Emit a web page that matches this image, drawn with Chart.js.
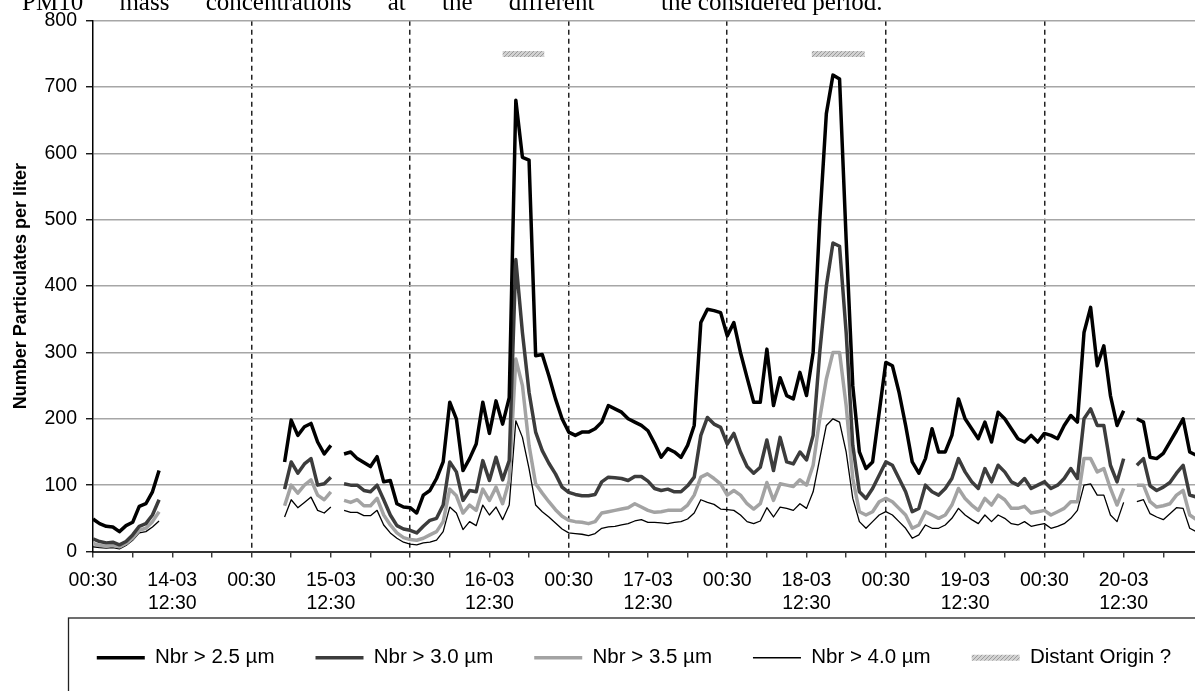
<!DOCTYPE html>
<html>
<head>
<meta charset="utf-8">
<script src="https://cdn.jsdelivr.net/npm/chart.js@4.4.0/dist/chart.umd.min.js"></script>
<style>
  html, body { margin: 0; padding: 0; overflow: hidden; background: #fff; }
  #wrap { position: relative; width: 1195px; height: 691px; }
  .caption { position: absolute; top: -12px; font: 25px "Liberation Serif", "DejaVu Serif", serif; white-space: nowrap; color: #000; z-index: 2; }
</style>
</head>
<body>
<div id="wrap">
  <canvas id="chart" width="1195" height="691"></canvas>
  <div class="caption" style="left:22px; word-spacing:30px">PM10 mass concentrations at the different</div>
  <div class="caption" style="left:661px">the considered period.</div>
</div>
<script>
// hours since 14-03 00:30, one sample per hour
const hours = Array.from({ length: 168 }, (_, h) => h);

const nbr25 = [
  49, 42, 38, 37, 30, 39, 44, 68, 72, 90,
  122, null, null, null, null, null, null, null, null, null,
  null, null, null, null, null, null, null, null, null, 135,
  198, 175, 188, 193, 165, 147, 160, null, 147, 150,
  140, 134, 128, 143, 105, 107, 72, 67, 66, 58,
  85, 92, 110, 135, 225, 200, 122, 140, 162, 225,
  178, 227, 192, 232, 680, 594, 590, 295, 297, 265,
  230, 200, 180, 175, 180, 180, 185, 195, 220, 215,
  210, 200, 195, 190, 182, 163, 142, 155, 150, 142,
  160, 190, 345, 365, 363, 360, 325, 345, 300, 262,
  225, 225, 305, 220, 262, 235, 230, 270, 235, 300,
  498, 660, 718, 712, 470, 250, 150, 125, 135, 210,
  285, 280, 240, 190, 135, 118, 140, 185, 150, 150,
  175, 230, 200, 185, 170, 195, 165, 210, 200, 185,
  170, 165, 175, 165, 178, 175, 170, 190, 205, 195,
  330, 368, 280, 310, 235, 190, 212, null, 200, 195,
  142, 140, 148, 165, 182, 200, 150, 145
];
const nbr30 = [
  19, 15, 13, 14, 10, 15, 25, 38, 42, 55,
  78, null, null, null, null, null, null, null, null, null,
  null, null, null, null, null, null, null, null, null, 94,
  135, 118, 132, 140, 100, 102, 112, null, 102, 100,
  100, 92, 90, 100, 78, 55, 39, 34, 32, 28,
  38, 47, 50, 70, 135, 120, 77, 92, 90, 137,
  107, 142, 108, 137, 440, 330, 240, 180, 152, 133,
  117, 97, 89, 86, 84, 84, 86, 105, 112, 111,
  110, 107, 113, 113, 106, 95, 92, 94, 90, 90,
  99, 112, 175, 202, 192, 187, 162, 178, 150, 128,
  118, 127, 168, 122, 172, 135, 132, 150, 138, 175,
  300, 400, 465, 460, 330, 160, 90, 80, 95, 115,
  135, 130, 110, 90, 60, 65, 100, 90, 85, 95,
  110, 140, 120, 105, 95, 125, 105, 130, 120, 105,
  100, 110, 95, 100, 105, 95, 100, 110, 125, 110,
  200, 215, 190, 190, 130, 105, 140, null, 130, 140,
  99, 92, 97, 104, 118, 130, 85, 82
];
const nbr35 = [
  12, 9, 8, 9, 7, 12, 20, 32, 35, 45,
  60, null, null, null, null, null, null, null, null, null,
  null, null, null, null, null, null, null, null, null, 69,
  100, 88, 100, 108, 85, 78, 90, null, 77, 74,
  78, 69, 69, 80, 55, 40, 28, 21, 18, 17,
  20, 25, 30, 45, 94, 84, 58, 70, 62, 94,
  77, 97, 72, 107, 290, 250, 160, 102, 88, 75,
  63, 53, 47, 45, 44, 42, 45, 58, 60, 62,
  64, 66, 72, 67, 62, 59, 60, 62, 62, 62,
  70, 85, 112, 117, 110, 102, 85, 92, 85, 72,
  64, 72, 104, 77, 102, 100, 98, 108, 100, 130,
  200, 260, 300, 300, 220, 110, 60, 55, 60, 75,
  80, 75, 65, 55, 35, 40, 60, 55, 50, 55,
  70, 95, 80, 70, 62, 80, 70, 85, 78, 65,
  65, 68, 58, 60, 62, 55, 60, 65, 75, 75,
  140, 140, 120, 125, 95, 70, 95, null, 100, 100,
  75, 67, 69, 72, 85, 92, 55, 48
];
const nbr40 = [
  7, 6, 5, 6, 4, 9, 17, 28, 30, 37,
  46, null, null, null, null, null, null, null, null, null,
  null, null, null, null, null, null, null, null, null, 52,
  78, 66, 74, 82, 62, 58, 67, null, 62, 59,
  59, 54, 54, 62, 40, 28, 20, 14, 11, 10,
  13, 14, 17, 30, 67, 58, 33, 45, 39, 70,
  55, 67, 48, 70, 197, 172, 125, 70, 60, 52,
  43, 34, 28, 27, 26, 24, 27, 35, 37, 38,
  40, 42, 46, 48, 44, 44, 43, 42, 44, 45,
  49, 58, 78, 74, 71, 64, 63, 62, 55, 45,
  42, 46, 66, 52, 67, 65, 62, 72, 65, 90,
  140, 190, 200, 195, 150, 80, 45, 35, 45, 55,
  60, 55, 45, 35, 20, 25, 40, 35, 35, 40,
  50, 65, 55, 48, 42, 55, 45, 55, 50, 42,
  40, 45, 38, 40, 42, 35, 38, 42, 50, 62,
  100, 102, 85, 85, 55, 45, 74, null, 75, 78,
  57, 52, 48, 57, 66, 65, 35, 30
];

// "Distant Origin ?" periods
const distantHours = [62, 68.3, 90, 108.8, 116.8];
const distantValues = [750, 750, null, 750, 750];

const tickHours = [0, 6, 12, 18, 24, 30, 36, 42, 48, 54, 60, 66, 72, 78, 84, 90, 96, 102,
  108, 114, 120, 126, 132, 138, 144, 150, 156, 162];
const tickLabels = ["00:30", ["14-03", "12:30"], "00:30", ["15-03", "12:30"], "00:30", ["16-03", "12:30"],
  "00:30", ["17-03", "12:30"], "00:30", ["18-03", "12:30"], "00:30", ["19-03", "12:30"],
  "00:30", ["20-03", "12:30"]];
const xMax = 166.8;

const pts = (xs, ys) => xs.map((x, i) => ({ x: x, y: ys[i] }));

const pc = document.createElement("canvas");
pc.width = 4;
pc.height = 4;
const pctx = pc.getContext("2d");
pctx.fillStyle = "#d2d2d2";
pctx.fillRect(0, 0, 4, 4);
pctx.fillStyle = "#9c9c9c";
pctx.fillRect(0, 0, 1, 1);
pctx.fillRect(2, 2, 1, 1);
pctx.fillRect(1, 3, 1, 1);
pctx.fillRect(3, 1, 1, 1);
const hatch = pctx.createPattern(pc, "repeat");

Chart.defaults.font.family = "'Liberation Sans', Arial, sans-serif";
Chart.defaults.color = "#000";

const legendFrame = {
  id: "legendFrame",
  afterLayout(chart) {
    const lg = chart.legend;
    // wide row so all five entries stay on one line, centred a bit right
    lg.left = chart.chartArea.left - 120;
    lg.right = chart.chartArea.right + 100;
    // let the two-line tick labels run past the axis box
    chart.scales.x.bottom = lg.bottom;
  },
  afterDraw(chart) {
    const lg = chart.legend;
    const ctx = chart.ctx;
    ctx.save();
    ctx.strokeStyle = "#222";
    ctx.lineWidth = 1.3;
    ctx.strokeRect(chart.chartArea.left - 24.5, lg.top + 11.5, 1300, 200);
    ctx.restore();
  }
};

const line = (label, data, color, width) => ({
  label: label,
  data: pts(hours, data),
  borderColor: color,
  backgroundColor: color,
  borderWidth: width,
  pointRadius: 0,
  tension: 0,
  spanGaps: false,
  borderJoinStyle: "round"
});

new Chart(document.getElementById("chart"), {
  type: "line",
  data: {
    datasets: [
      line("Nbr > 2.5 µm", nbr25, "#000000", 3.5),
      line("Nbr > 3.0 µm", nbr30, "#3c3c3c", 3.5),
      line("Nbr > 3.5 µm", nbr35, "#a3a3a3", 3.5),
      line("Nbr > 4.0 µm", nbr40, "#000000", 1.3),
      {
        label: "Distant Origin ?",
        data: pts(distantHours, distantValues),
        borderColor: hatch,
        backgroundColor: hatch,
        borderWidth: 6,
        borderCapStyle: "butt",
        pointRadius: 0,
        spanGaps: false
      }
    ]
  },
  options: {
    responsive: false,
    animation: false,
    events: [],
    layout: { padding: { top: 20, right: 0, bottom: 13, left: 0 } },
    plugins: {
      tooltip: { enabled: false },
      legend: {
        position: "bottom",
        labels: {
          usePointStyle: true,
          pointStyle: "line",
          pointStyleWidth: 48,
          padding: 41,
          font: { size: 20.5 },
          color: "#000"
        }
      }
    },
    scales: {
      x: {
        type: "linear",
        min: 0,
        max: xMax,
        afterBuildTicks: (scale) => { scale.ticks = tickHours.map((v) => ({ value: v })); },
        afterFit: (scale) => { scale.height = 55; },
        grid: {
          color: (ctx) => (ctx.tick && ctx.tick.value > 0 && ctx.tick.value % 24 === 0) ? "#222" : "rgba(0,0,0,0)",
          lineWidth: 1.5,
          tickColor: "#222",
          tickLength: 6,
          tickWidth: 1.3
        },
        border: { display: true, color: "#333", width: 2, dash: [5, 4] },
        ticks: {
          autoSkip: false,
          maxRotation: 0,
          minRotation: 0,
          padding: 12,
          font: { size: 19.5, lineHeight: 1.15 },
          color: "#000",
          callback: (v) => (v % 12 === 0 && v / 12 < tickLabels.length) ? tickLabels[v / 12] : ""
        }
      },
      y: {
        min: 0,
        max: 800,
        afterFit: (scale) => { scale.width = 93; },
        grid: { color: "#a6a6a6", lineWidth: 1.5, tickColor: "#000", tickLength: 7, tickWidth: 1.3 },
        border: { display: true, color: "#000", width: 1.5 },
        ticks: { stepSize: 100, padding: 9, font: { size: 19.5 }, color: "#000" },
        title: {
          display: true,
          text: "Number Particulates per liter",
          font: { size: 18, weight: "bold" },
          color: "#000",
          padding: { top: 10, bottom: 0 }
        }
      }
    }
  },
  plugins: [legendFrame]
});
</script>
</body>
</html>
